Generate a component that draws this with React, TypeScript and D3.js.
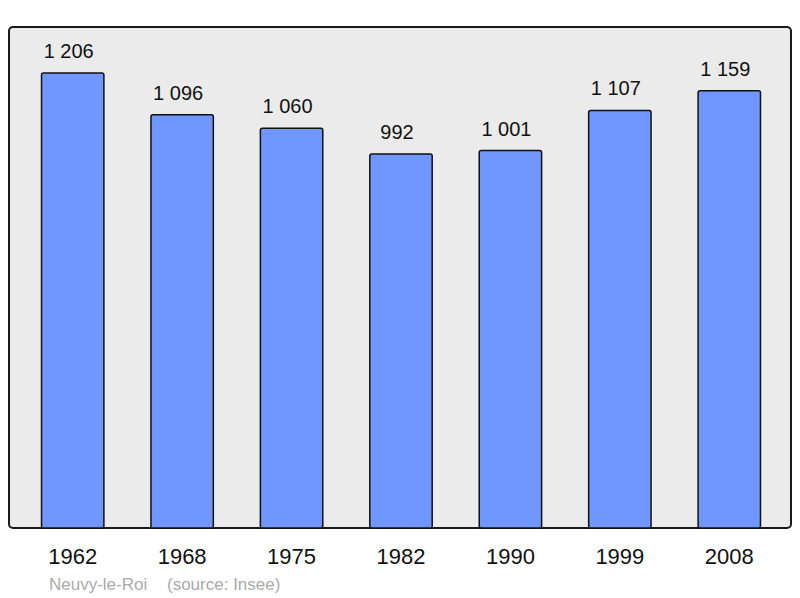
import React from 'react';
import * as d3 from 'd3';

const years = ['1962', '1968', '1975', '1982', '1990', '1999', '2008'];
const population = [1206, 1096, 1060, 992, 1001, 1107, 1159];
const commune = 'Neuvy-le-Roi';
const source = '(source: Insee)';

const width = 800;
const height = 598;

// the panel frame
const panel = { left: 9, top: 27, right: 791, bottom: 528 };

const fmt = (v: number) => d3.format(',')(v).replace(/,/g, ' ');

const App = () => {
    const x = d3.scaleBand<string>()
        .domain(years)
        .range([18, 784])
        .paddingInner(0.43)
        .paddingOuter(0.215);

    const y = d3.scaleLinear()
        .domain([0, 1206])
        .range([529.5, 73]);

    const font = '"Liberation Sans", Arial, sans-serif';

    return (
        <svg width={width} height={height}
            style={{ position: 'absolute', left: 0, top: 0, fontFamily: font }}>
            <rect x={panel.left} y={panel.top}
                width={panel.right - panel.left} height={panel.bottom - panel.top}
                rx={4} fill="#ebebeb" stroke="#1a1a1a" strokeWidth={2} />
            {years.map((yr, i) => {
                const v = population[i];
                const bx = x(yr) ?? 0;
                const cx = bx + x.bandwidth() / 2;
                const top = y(v);
                return (
                    <g key={yr}>
                        <rect x={bx} y={top} width={x.bandwidth()}
                            height={panel.bottom - top} rx={2}
                            fill="#7097ff" stroke="#111" strokeWidth={1.5} />
                        <text x={cx - 4} y={top - 15}
                            textAnchor="middle" fontSize={20} fill="#111">{fmt(v)}</text>
                        <text x={cx} y={564}
                            textAnchor="middle" fontSize={22} fill="#111">{yr}</text>
                    </g>
                );
            })}
            <text x={49} y={590} fontSize={17} fill="#aaaaaa">
                {commune}
                <tspan x={167}>{source}</tspan>
            </text>
        </svg>
    );
};

export default App;
